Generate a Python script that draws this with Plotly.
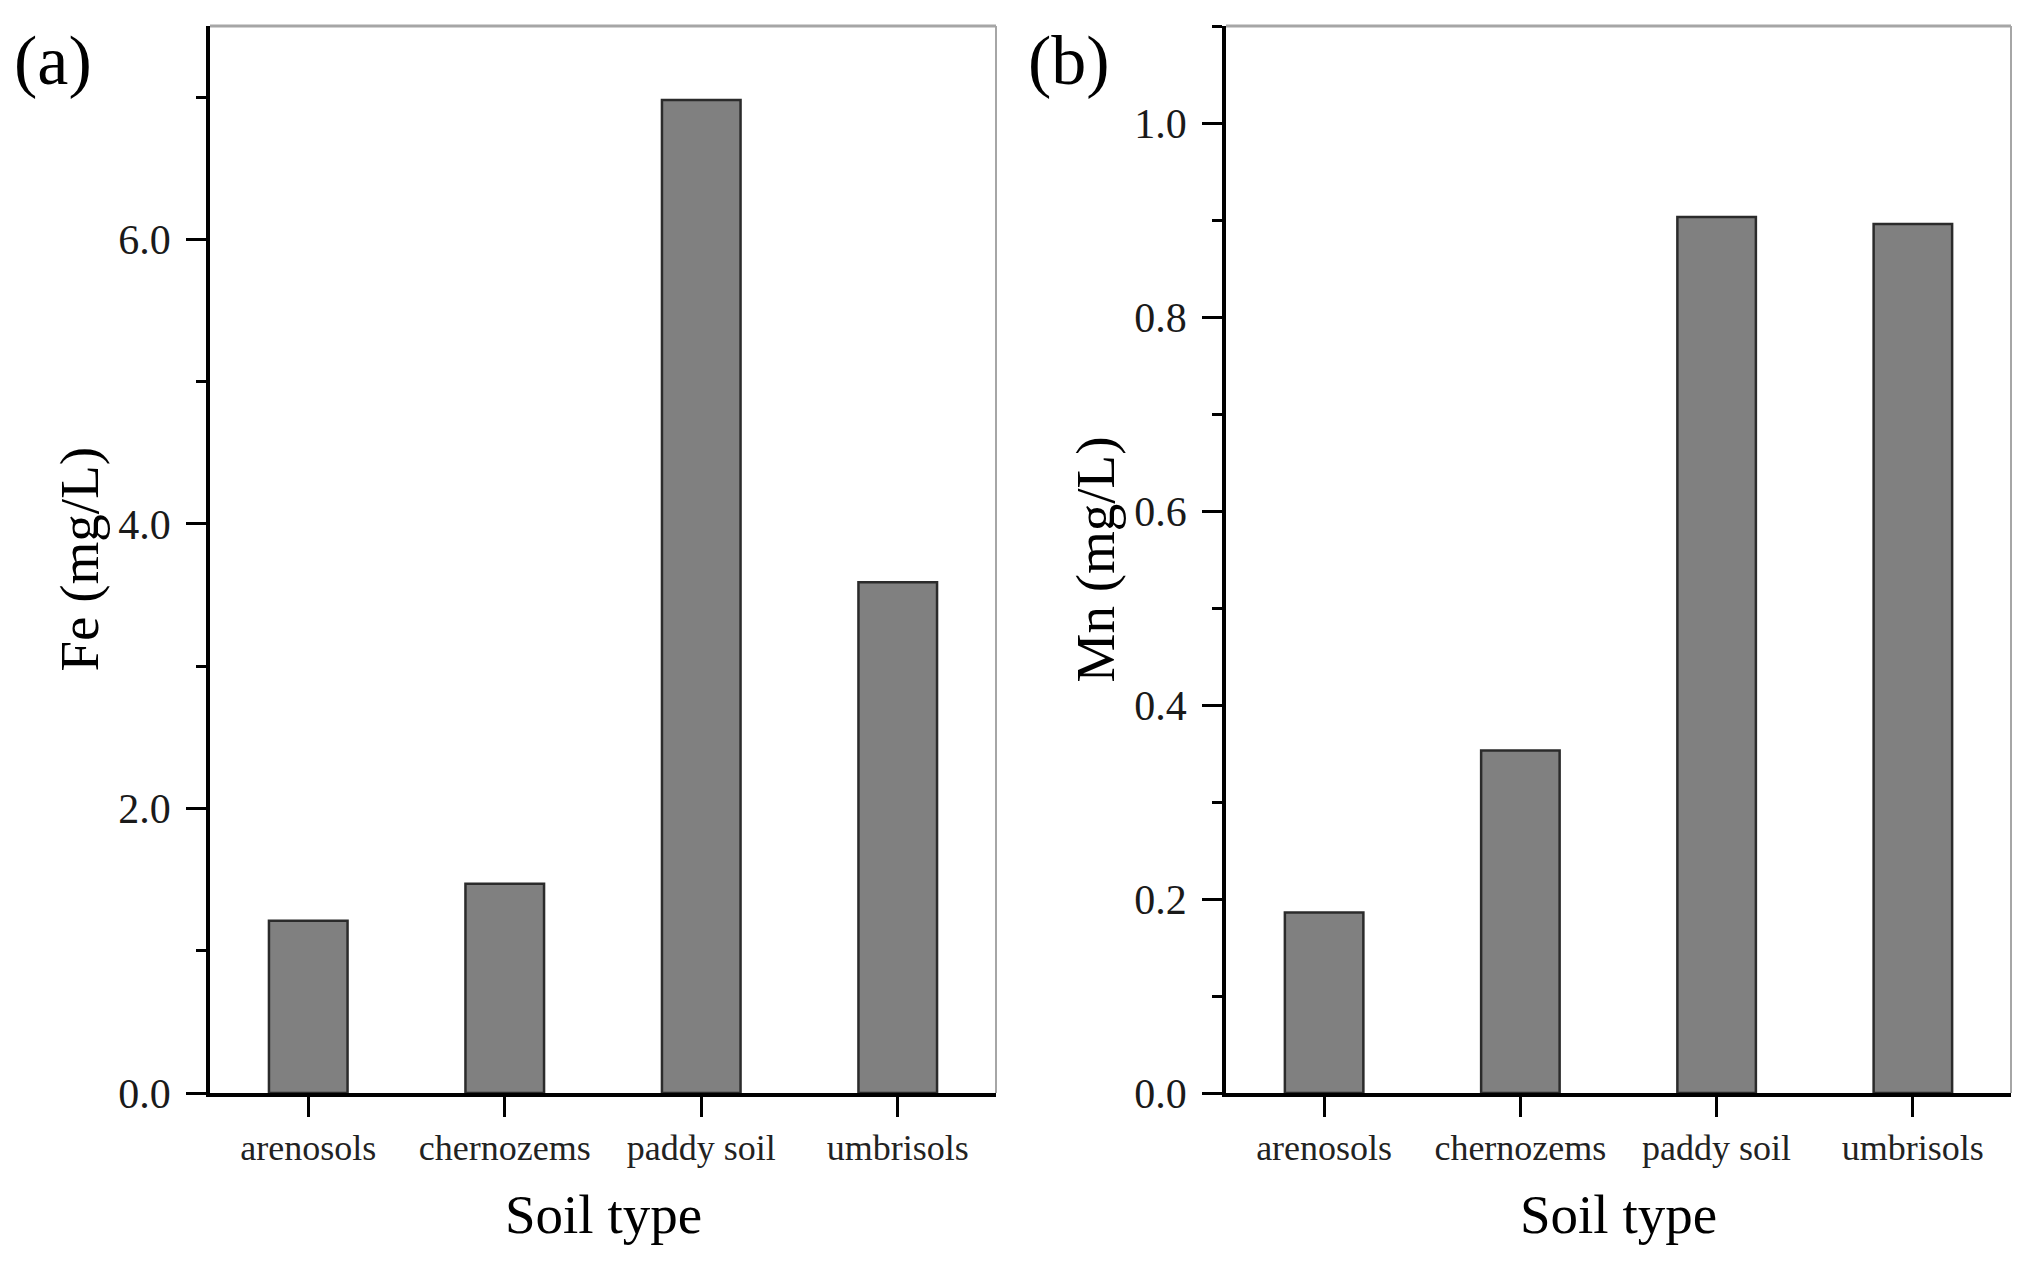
import plotly.graph_objects as go
from plotly.subplots import make_subplots

# soil types on the x axis (same for both panels)
SOIL_TYPES = ['arenosols', 'chernozems', 'paddy soil', 'umbrisols']

# panel (a) - Fe concentration, mg/L
FE_VALUES = [1.21, 1.47, 6.98, 3.59]
# panel (b) - Mn concentration, mg/L
MN_VALUES = [0.186, 0.353, 0.903, 0.896]

PANEL_LABELS = ['(a)', '(b)']
Y_TITLES = ['Fe (mg/L)', 'Mn (mg/L)']
X_TITLE = 'Soil type'

# the html body has an 8px margin, so the figure is a bit smaller than the window
PAGE_MARGIN = 8
W, H = 2028 - 2 * PAGE_MARGIN, 1262 - 2 * PAGE_MARGIN
FONT = 'Liberation Serif, Times New Roman, serif'
BAR_COLOR = '#808080'
BAR_EDGE = '#2b2b2b'
FRAME_COLOR = '#a6a6a6'


def px_x(x):
    # window pixel -> paper x
    return (x - PAGE_MARGIN) / W


def px_y(y):
    # window pixel (from top) -> paper y
    return 1 - (y - PAGE_MARGIN) / H


fig = make_subplots(rows=1, cols=2)

fig.add_trace(go.Bar(x=SOIL_TYPES, y=FE_VALUES, width=0.4,
                     marker=dict(color=BAR_COLOR, line=dict(color=BAR_EDGE, width=2.5))),
              row=1, col=1)
fig.add_trace(go.Bar(x=SOIL_TYPES, y=MN_VALUES, width=0.4,
                     marker=dict(color=BAR_COLOR, line=dict(color=BAR_EDGE, width=2.5))),
              row=1, col=2)

# plot areas measured in pixels on the original figure
y_dom = [px_y(1093), px_y(26)]
x_doms = [[px_x(210), px_x(996)], [px_x(1226), px_x(2011)]]
axis_left_px = [210, 1226]

axis_common = dict(showline=True, linecolor='black', linewidth=3.5, ticks='outside',
                   tickcolor='black', tickwidth=3, ticklen=20, showgrid=False,
                   zeroline=False, automargin=False)

for i, name in enumerate(['', '2']):
    fig.layout['xaxis' + name].update(
        domain=x_doms[i], range=[-0.5, 3.5], ticklabelstandoff=0,
        tickfont=dict(family=FONT, size=36, color='#222222'),
        **axis_common)
    fig.layout['yaxis' + name].update(
        domain=y_dom, ticklabelstandoff=7,
        tickfont=dict(family=FONT, size=42, color='#1a1a1a'),
        **axis_common)

fig.update_layout(
    yaxis=dict(range=[0, 7.5], tick0=0, dtick=2, tickformat='.1f',
               minor=dict(ticks='outside', ticklen=10, tickwidth=3, tickcolor='black', dtick=1)),
    yaxis2=dict(range=[0, 1.1], tick0=0, dtick=0.2, tickformat='.1f',
                minor=dict(ticks='outside', ticklen=10, tickwidth=3, tickcolor='black', dtick=0.1)),
)

# gray top / right frame of each panel
for xr, yr in [('x domain', 'y domain'), ('x2 domain', 'y2 domain')]:
    fig.add_shape(type='line', xref=xr, yref=yr, x0=0, x1=1, y0=1, y1=1,
                  line=dict(color=FRAME_COLOR, width=3))
    fig.add_shape(type='line', xref=xr, yref=yr, x0=1, x1=1, y0=0, y1=1,
                  line=dict(color=FRAME_COLOR, width=2))

# axis titles and panel letters, placed by pixel position
for i in range(2):
    ax_left = axis_left_px[i]
    fig.add_annotation(text=X_TITLE, x=(x_doms[i][0] + x_doms[i][1]) / 2, y=px_y(1214),
                       xref='paper', yref='paper',
                       showarrow=False, xanchor='center', yanchor='middle',
                       font=dict(family=FONT, size=55, color='black'))
    fig.add_annotation(text=Y_TITLES[i], x=px_x(ax_left - 131), y=(y_dom[0] + y_dom[1]) / 2,
                       xref='paper', yref='paper', textangle=-90,
                       showarrow=False, xanchor='center', yanchor='middle',
                       font=dict(family=FONT, size=55, color='black'))
    fig.add_annotation(text=PANEL_LABELS[i], x=px_x(ax_left - 157), y=px_y(60),
                       xref='paper', yref='paper',
                       showarrow=False, xanchor='center', yanchor='middle',
                       font=dict(family=FONT, size=70, color='black'))

fig.update_layout(width=W, height=H, margin=dict(l=0, r=0, t=0, b=0),
                  plot_bgcolor='white', paper_bgcolor='white', showlegend=False)

fig.write_html('out.html')
